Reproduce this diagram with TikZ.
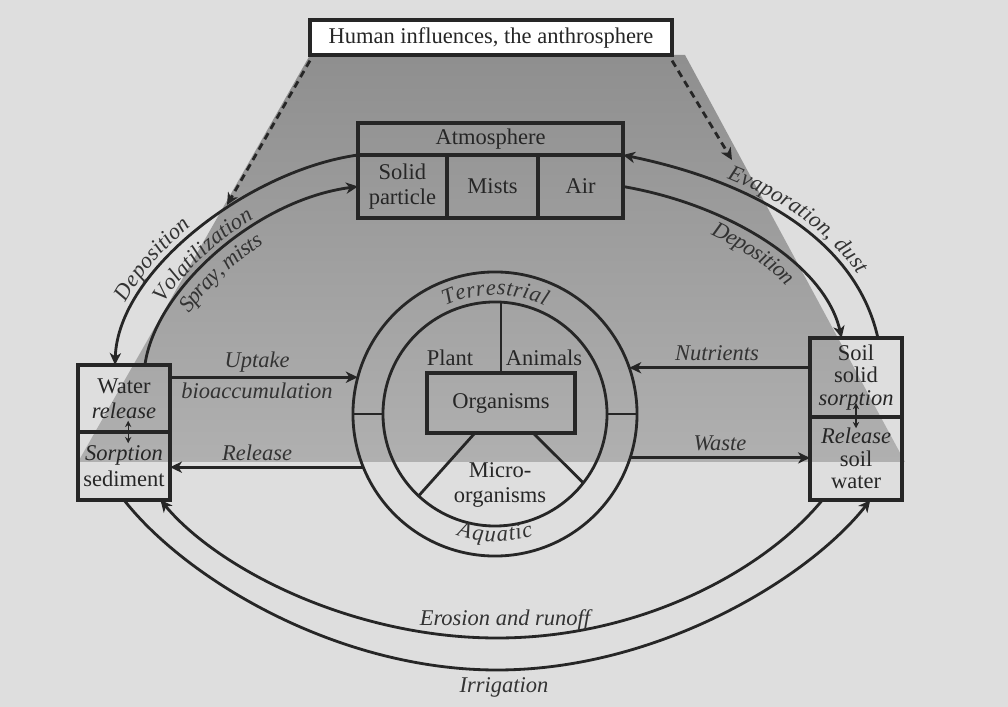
\documentclass[tikz,border=0pt]{standalone}
\usepackage{fontspec}
\setmainfont{Liberation Serif}
\usetikzlibrary{arrows.meta,positioning,decorations.text}

\newcommand{\arclbl}{\fontsize{16}{18}\selectfont\itshape}

\tikzset{
  box/.style={draw=black!85, line width=2.4pt, inner sep=0pt, outer sep=0pt, align=center},
  disc/.style={circle, draw=black!85, line width=2pt, inner sep=0pt, outer sep=0pt},
  flow/.style={draw=black!85, line width=2pt, -{Stealth[length=8.5pt,width=8pt,inset=2.5pt]}},
  bare/.style={draw=black!85, line width=2pt},
  hint/.style={flow, dash pattern=on 5pt off 3.5pt},
  twoway/.style={draw=black!85, line width=1pt, {Stealth[length=4.5pt,width=4.5pt]}-{Stealth[length=4.5pt,width=4.5pt]}},
  lbl/.style={font=\fontsize{16}{18}\selectfont\itshape, text=black!80},
  arctext/.style={decorate, decoration={text along path, text color=black!80, #1}}
}

\begin{document}
\begin{tikzpicture}[x=0.025cm, y=-0.025cm, every node/.style={font=\fontsize{16}{18}\selectfont, text=black!85}]
  % Fondo y sombra de la antroposfera
  \fill[black!13] (0,0) rectangle (1008,707);
  \shade[top color=black!44, bottom color=black!31] (310,55) -- (685,55) -- (905,462) -- (78,462) -- cycle;
  \useasboundingbox (0,0) rectangle (1008,707);

  % Antroposfera
  \node[box, fill=white, minimum width=9.05cm, minimum height=0.875cm] (human) at (491,37.5) {Human influences, the anthrosphere};

  % Atmosfera
  \node[box, minimum width=6.625cm, minimum height=0.8cm] (atmo) at (490.5,139) {Atmosphere};
  \node[box, minimum width=2.225cm, minimum height=1.575cm, anchor=north west] (solid) at (atmo.south west) {Solid\\particle};
  \node[box, minimum width=2.275cm, minimum height=1.575cm, right=0pt of solid] (mists) {Mists};
  \node[box, minimum width=2.125cm, minimum height=1.575cm, right=0pt of mists] (air) {Air};

  % Agua (izquierda)
  \node[box, minimum width=2.3cm, minimum height=1.675cm] (waterup) at (124,398.5) {Water\\\textit{release}};
  \node[box, minimum width=2.3cm, minimum height=1.7cm, below=0pt of waterup] (waterlow) {\textit{Sorption}\\sediment};

  % Suelo (derecha)
  \node[box, minimum width=2.3cm, minimum height=1.975cm, font=\fontsize{16}{16}\selectfont] (soilup) at (856,377.5) {Soil\\solid\\\textit{sorption}};
  \node[box, minimum width=2.3cm, minimum height=2.075cm, font=\fontsize{16}{16}\selectfont, below=0pt of soilup] (soillow) {\textit{Release}\\soil\\water};

  % Organismos
  \node[disc, minimum size=7.1cm] (ring) at (495,414) {};
  \node[disc, minimum size=5.6cm] (core) at (495,414) {};
  \node[box, minimum width=3.7cm, minimum height=1.5cm] (org) at (501,403) {Organisms};
  \node (plant) at (450,358) {Plant};
  \node (animals) at (544,358) {Animals};
  \node[align=center] (micro) at (500,485) {Micro-\\organisms};

  \draw[bare] (ring.west) -- (core.west);
  \draw[bare] (ring.east) -- (core.east);
  \draw[bare] (org.north) -- (org.north |- core.north);
  \draw[bare] (org.229) -- (core.-133);
  \draw[bare] (org.-43) -- (core.-38);

  % Flechas discontinuas
  \coordinate (hitL) at (227,205);
  \coordinate (hitR) at (732,160);
  \draw[hint] ([yshift=-4pt]human.south west) -- (hitL);
  \draw[hint] ([yshift=-4pt]human.south east) -- (hitR);

  % Arcos superiores
  \draw[flow] (atmo.south west) .. controls (250,170) and (118,270) .. (waterup.105);
  \draw[flow] (waterup.58) .. controls (155,290) and (255,200) .. (solid.west);
  \draw[flow] (soilup.61) .. controls (855,235) and (745,180) .. (atmo.south east);
  \draw[flow] (air.east) .. controls (730,205) and (825,265) .. (soilup.110);

  % Arcos inferiores
  \draw[flow] (soillow.-129) .. controls (764,571) and (640,638) .. (497,638)
    .. controls (354,638) and (219,570) .. (waterlow.-43);
  \draw[flow] (waterlow.south) .. controls (186,579) and (337,670) .. (497,670)
    .. controls (657,670) and (808,579) .. (soillow.-71);

  % Flechas horizontales
  \draw[flow] (ring.165 -| waterup.east) -- (ring.165);
  \draw[flow] (ring.202) -- (ring.202 -| waterlow.east);
  \draw[flow] (ring.19 -| soilup.west) -- (ring.19);
  \draw[flow] (ring.-18) -- (ring.-18 -| soillow.west);

  % Flechas dobles
  \draw[twoway] ([xshift=3pt,yshift=8pt]waterup.south) -- ([xshift=3pt,yshift=-8pt]waterlow.north);
  \draw[twoway] ([yshift=10pt]soilup.south) -- ([yshift=-8pt]soillow.north);

  % Etiquetas
  \node[lbl] (uptake) at (257,362) {Uptake};
  \node[lbl] (bioacc) at (257,391) {bioaccumulation};
  \node[lbl] (releaseL) at (257,453) {Release};
  \node[lbl] (nutri) at (717,353) {Nutrients};
  \node[lbl] (waste) at (720,443) {Waste};
  \node[lbl] (erosion) at (505,620) {Erosion and runoff};
  \node[lbl] (irrig) at (504,687) {Irrigation};

  % Etiquetas sobre los arcos
  \path[arctext={text={|\arclbl|Deposition}, text align={left indent=44pt}, raise=5pt}]
    (waterup.105) .. controls (118,270) and (250,170) .. (atmo.south west);
  \path[arctext={text={|\arclbl|Volatilization}, text align={left indent=45pt}, raise=4pt}]
    (waterup.58) .. controls (155,290) and (255,200) .. (solid.west);
  \path[arctext={text={|\arclbl|Spray, mists}, text align={left indent=50pt}, raise=-15pt}]
    (waterup.58) .. controls (155,290) and (255,200) .. (solid.west);
  \path[arctext={text={|\arclbl|Evaporation, dust}, text align={left indent=75pt}, raise=5pt}]
    (atmo.south east) .. controls (745,180) and (855,235) .. (soilup.61);
  \path[arctext={text={|\arclbl|Deposition}, text align={left indent=72pt}, raise=-15pt}]
    (air.east) .. controls (730,205) and (825,265) .. (soilup.110);

  % Anillo: terrestre y acuatico
  \path[arctext={text={|\arclbl|Terrestrial}, text align=center, raise=5pt}]
    (core.135) .. controls (459.5,291.1) and (530.5,291.1) .. (core.45);
  \path[arctext={text={|\arclbl|Aquatic}, text align=center, raise=-11pt}]
    (core.225) .. controls (459.5,536.9) and (530.5,536.9) .. (core.-45);
\end{tikzpicture}
\end{document}
